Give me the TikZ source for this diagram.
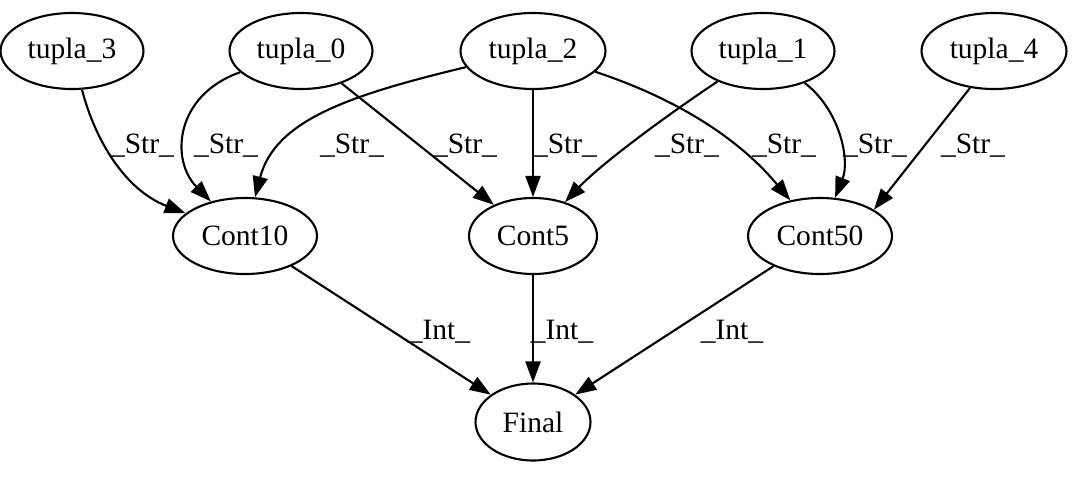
\documentclass[tikz,border=0pt]{standalone}
\usepackage{fontspec}
\setmainfont{Liberation Serif}
\usetikzlibrary{arrows.meta,shapes.geometric}
\begin{document}
\begin{tikzpicture}[x=0.02cm,y=-0.02cm,
  gnode/.style={draw,ellipse,line width=1.2pt,inner sep=0pt,font=\fontsize{16.8}{20}\selectfont},
  elabel/.style={inner sep=0pt,font=\fontsize{16.8}{20}\selectfont},
  edge/.style={line width=1.2pt,-{Triangle[length=0.42cm,width=0.3cm]}}]
\useasboundingbox (0,0) rectangle (1077,477);
% top row
\node[gnode,minimum width=2.86cm,minimum height=1.52cm] (t3) at (72,51) {tupla\_3};
\node[gnode,minimum width=2.86cm,minimum height=1.52cm] (t0) at (301,51) {tupla\_0};
\node[gnode,minimum width=2.9cm,minimum height=1.52cm] (t2) at (533,51) {tupla\_2};
\node[gnode,minimum width=2.86cm,minimum height=1.52cm] (t1) at (763,51) {tupla\_1};
\node[gnode,minimum width=2.9cm,minimum height=1.52cm] (t4) at (994,51) {tupla\_4};
% middle row
\node[gnode,minimum width=2.88cm,minimum height=1.52cm] (c10) at (245,236) {Cont10};
\node[gnode,minimum width=2.56cm,minimum height=1.52cm] (c5) at (533,236) {Cont5};
\node[gnode,minimum width=2.88cm,minimum height=1.52cm] (c50) at (820,236) {Cont50};
% bottom
\node[gnode,minimum width=2.3cm,minimum height=1.54cm] (fin) at (533,422) {Final};
% edges
\draw[edge] (t3) .. controls (95,140) and (125,190) .. (c10);
\draw[edge] (t0) .. controls (175,95) and (170,160) .. (c10);
\draw[edge] (t2) .. controls (350,95) and (275,120) .. (c10);
\draw[edge] (t0) -- (c5);
\draw[edge] (t2) -- (c5);
\draw[edge] (t1) .. controls (660,120) and (600,165) .. (c5);
\draw[edge] (t2) .. controls (680,100) and (740,140) .. (c50);
\draw[edge] (t1) .. controls (840,110) and (850,160) .. (c50);
\draw[edge] (t4.237) -- (c50.26);
\draw[edge] (c10) -- (fin);
\draw[edge] (c5) -- (fin);
\draw[edge] (c50) -- (fin);
% labels
\node[elabel] (l1) at (142,146) {\_Str\_};
\node[elabel] (l2) at (226,146) {\_Str\_};
\node[elabel] (l3) at (352,146) {\_Str\_};
\node[elabel] (l4) at (465,146) {\_Str\_};
\node[elabel] (l5) at (565,146) {\_Str\_};
\node[elabel] (l6) at (687,146) {\_Str\_};
\node[elabel] (l7) at (784,146) {\_Str\_};
\node[elabel] (l8) at (875,146) {\_Str\_};
\node[elabel] (l9) at (973,146) {\_Str\_};
\node[elabel] (l10) at (439,332) {\_Int\_};
\node[elabel] (l11) at (562,332) {\_Int\_};
\node[elabel] (l12) at (732,332) {\_Int\_};
\end{tikzpicture}
\end{document}
